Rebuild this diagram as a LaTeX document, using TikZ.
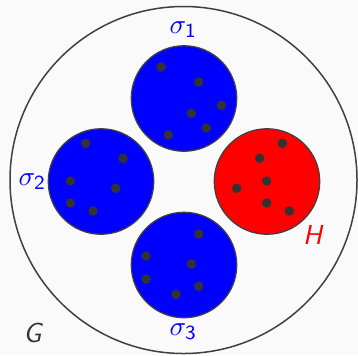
\documentclass[tikz,border=0pt]{standalone}
\tikzset{
  rim/.style={draw=black!75, line width=0.5pt},
  elt/.style={fill=black!80},
  lbl/.style={font=\fontsize{11}{13}\selectfont, inner sep=0pt},
}
\begin{document}
\begin{tikzpicture}[x=0.4pt,y=-0.4pt]
    \useasboundingbox[fill=black!2] (0,0) rectangle (358,355);

    % the whole graph
    \draw[black!75, line width=0.6pt] (183.5,180) circle (69.4pt);
    \node[lbl, text=black!80] (g) at (33.3,333) {\textsf{\textit{G}}};

    % the four parts
    \fill[blue] (184,98.5) circle (21.1pt);
    \fill[blue] (101,181.5) circle (21.1pt);
    \fill[red] (267,181.5) circle (21.1pt);
    \fill[blue] (184,265) circle (21.1pt);

    \draw[rim] (184,98.5) circle (21.1pt);
    \draw[rim] (101,181.5) circle (21.1pt);
    \draw[rim] (267,181.5) circle (21.1pt);
    \draw[rim] (184,265) circle (21.1pt);

    \node[lbl, text=blue] (s1) at (183.3,29.5) {$\sigma_{\mathsf{1}}$};
    \node[lbl, text=blue] (s2) at (32.3,182) {$\sigma_{\mathsf{2}}$};
    \node[lbl, text=blue] (s3) at (183.3,331.5) {$\sigma_{\mathsf{3}}$};
    \node[lbl, text=red] (h) at (313.3,235) {\textsf{\textit{H}}};

    % vertices
    \foreach \p in {(161,67),(198.7,82),(221.3,105.3),(191.3,113.3),(206.3,128),(168.3,135),
                    (85.7,143.3),(123,158.3),(70.3,181),(115.7,188.3),(70.3,203),(93,211),
                    (282.3,143.3),(259.7,158.3),(266.7,181),(236.7,188.3),(266.7,203),(289.3,211),
                    (198.7,234),(146,256),(191.3,264),(146,279),(198.7,286.3),(176,294.3)}
        \fill[elt] \p circle (1.9pt);
\end{tikzpicture}
\end{document}
